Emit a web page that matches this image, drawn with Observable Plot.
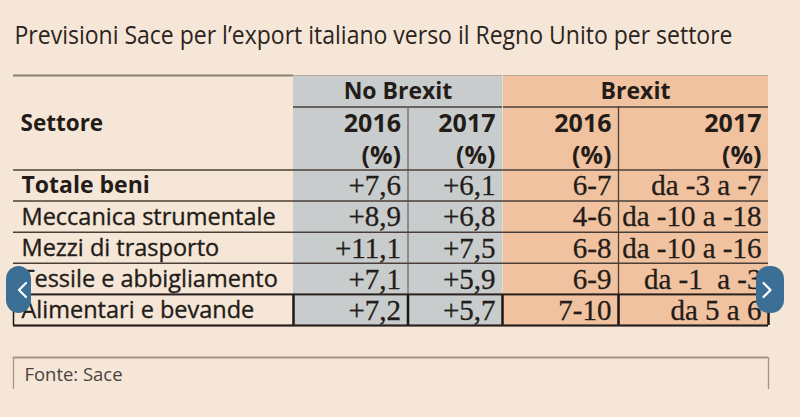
<!DOCTYPE html>
<html><head><meta charset="utf-8">
<script src="https://cdn.jsdelivr.net/npm/d3@7"></script>
<script src="https://cdn.jsdelivr.net/npm/@observablehq/plot@0.6"></script>
<style>
html,body{margin:0;padding:0;background:#f5e6d7;}
#chart svg{display:block;}
</style></head><body><div id="chart"></div>
<script>
// ---- data ----
const title = "Previsioni Sace per l’export italiano verso il Regno Unito per settore";
const rowHeader = "Settore";
const groups = ["No Brexit", "Brexit"];
const years = ["2016", "2017", "2016", "2017"];
const unitLabel = "(%)";
const sectors = ["Totale beni", "Meccanica strumentale", "Mezzi di trasporto", "Tessile e abbigliamento", "Alimentari e bevande"];
const noBrexit2016 = ["+7,6", "+8,9", "+11,1", "+7,1", "+7,2"];
const noBrexit2017 = ["+6,1", "+6,8", "+7,5", "+5,9", "+5,7"];
const brexit2016 = ["6-7", "4-6", "6-8", "6-9", "7-10"];
const brexit2017 = ["da -3 a -7", "da -10 a -18", "da -10 a -16", "da -1  a -3", "da 5 a 6"];
const source = "Fonte: Sace";

// ---- layout ----
const W = 800, H = 417;
const edges = [13, 293, 407.5, 502, 618, 768];
const yTop = 75, yGroup = 106.5, yHeadEnd = 169.5, rowH = 31.1;
const rowLines = d3.range(sectors.length + 1).map(i => yHeadEnd + i * rowH);
const yBottom = rowLines[rowLines.length - 1];
const pad = 7;

const cream = "#f5e6d7", gray = "#c8cccc", orange = "#f0c2a0", ink = "#231c18", lineCol = "#4a3f38";
const sans = "'Open Sans', sans-serif";
const serif = "'Liberation Serif', 'Times New Roman', serif";

const groupBoxes = groups.map((g, i) => ({
  name: g, x1: edges[1 + 2 * i], x2: edges[3 + 2 * i], fill: i === 0 ? gray : orange
}));

const columns = [noBrexit2016, noBrexit2017, brexit2016, brexit2017];
const cells = [];
columns.forEach((col, c) => col.forEach((v, r) => cells.push({
  text: v, x: edges[c + 2] - pad, y: (rowLines[r] + rowLines[r + 1]) / 2 + 0.5
})));
const labels = sectors.map((s, r) => ({
  text: s, x: edges[0] + 8, y: (rowLines[r] + rowLines[r + 1]) / 2 + 0.5, bold: r === 0
}));
const yearCells = years.map((y, c) => ({text: y, x: edges[c + 2] - pad}));

const lastRowTop = rowLines[rowLines.length - 2];
const arrows = [
  {x1: 6, x2: 31, y1: 266, y2: 313, dir: -1},
  {x1: 756, x2: 784, y1: 266, y2: 313, dir: 1}
];
const chevrons = arrows.flatMap((a, i) => {
  const cx = (a.x1 + a.x2) / 2 + (a.dir < 0 ? 4 : -4), cy = (a.y1 + a.y2) / 2;
  return [-1, 0, 1].map(k => ({id: i, x: cx + (k === 0 ? a.dir * 4 : -a.dir * 3), y: cy + k * 7}));
});

const chart = Plot.plot({
  width: W, height: H,
  margin: 0,
  x: {type: "identity"},
  y: {type: "identity"},
  style: {background: cream, overflow: "visible"},
  marks: [
    // title
    Plot.text([title], {x: 14, y: 35, text: d => d, textAnchor: "start", fontSize: 25, fill: "#2b2420", fontFamily: sans}),
    // coloured group backgrounds
    Plot.rect(groupBoxes, {x1: "x1", x2: "x2", y1: yTop, y2: yBottom, fill: "fill"}),
    // top rule over the sector column
    Plot.ruleY([yTop], {x1: edges[0], x2: edges[1], stroke: "#8c7e74", strokeWidth: 2}),
    Plot.ruleY([yTop], {x1: edges[1], x2: edges[5], stroke: "#b5a99c", strokeWidth: 1}),
    // group header divider
    Plot.ruleY([yGroup], {x1: edges[1], x2: edges[5], stroke: lineCol, strokeWidth: 1.5}),
    // vertical dividers
    Plot.ruleX([edges[2]], {y1: yGroup, y2: yBottom, stroke: "#6e6a66", strokeWidth: 1.3}),
    Plot.ruleX([edges[3]], {y1: yTop, y2: yBottom, stroke: "#e2ddd6", strokeWidth: 1}),
    Plot.ruleX([edges[4]], {y1: yGroup, y2: yBottom, stroke: lineCol, strokeWidth: 1.3}),
    // row lines
    Plot.ruleY(rowLines, {x1: edges[0], x2: edges[5], stroke: lineCol, strokeWidth: 1.5}),
    // highlighted last row box
    Plot.ruleX(edges.slice(0, 1), {y1: lastRowTop, y2: yBottom, stroke: "#1e1814", strokeWidth: 1.5}),
    Plot.ruleX(edges.slice(1), {y1: lastRowTop, y2: yBottom, stroke: "#1e1814", strokeWidth: 2.5}),
    Plot.ruleY([lastRowTop, yBottom], {x1: edges[0], x2: edges[5], stroke: "#2a221e", strokeWidth: 1.8}),
    // headers
    Plot.text(groupBoxes, {x: d => (d.x1 + d.x2) / 2, y: 91, text: "name", fontSize: 23, fontWeight: "bold", fill: ink, fontFamily: sans}),
    Plot.text([rowHeader], {x: edges[0] + 7, y: 123, text: d => d, textAnchor: "start", fontSize: 22.5, fontWeight: "bold", fill: ink, fontFamily: sans}),
    Plot.text(yearCells, {x: "x", y: 123, text: "text", textAnchor: "end", fontSize: 25, fontWeight: "bold", fill: ink, fontFamily: sans}),
    Plot.text(yearCells, {x: "x", y: 155, text: () => unitLabel, textAnchor: "end", fontSize: 25, fontWeight: "bold", fill: ink, fontFamily: sans}),
    // row labels
    Plot.text(labels.filter(d => d.bold), {x: "x", y: "y", text: "text", textAnchor: "start", fontSize: 23, fontWeight: "bold", fill: ink, fontFamily: sans}),
    Plot.text(labels.filter(d => !d.bold), {x: "x", y: "y", text: "text", textAnchor: "start", fontSize: 23.5, fill: ink, fontFamily: sans, stroke: ink, strokeWidth: 0.35}),
    // values
    Plot.text(cells, {x: "x", y: "y", text: "text", textAnchor: "end", fontSize: 29, fill: ink, fontFamily: serif, stroke: ink, strokeWidth: 0.3}),
    // source box
    Plot.ruleY([357], {x1: edges[0], x2: edges[5], stroke: "#a59585", strokeWidth: 2.2}),
    Plot.ruleX([edges[0], edges[5]], {y1: 357, y2: 389, stroke: "#a59585", strokeWidth: 1.3}),
    Plot.text([source], {x: 24, y: 375, text: d => d, textAnchor: "start", fontSize: 18, fill: "#4a433e", fontFamily: sans}),
    // carousel arrows
    Plot.rect(arrows, {x1: "x1", x2: "x2", y1: "y1", y2: "y2", fill: "#3b6f95", rx: 13}),
    Plot.line(chevrons, {x: "x", y: "y", z: "id", stroke: "white", strokeWidth: 2.2})
  ]
});
document.getElementById("chart").append(chart);
// condensed title & source like the original typeface
d3.select(chart).selectAll("text").filter(function() { return this.textContent === title; })
  .attr("textLength", 718).attr("lengthAdjust", "spacingAndGlyphs");
d3.select(chart).selectAll("text").filter(function() { return this.textContent === source; })
  .attr("textLength", 98).attr("lengthAdjust", "spacingAndGlyphs");
</script>
</body></html>
